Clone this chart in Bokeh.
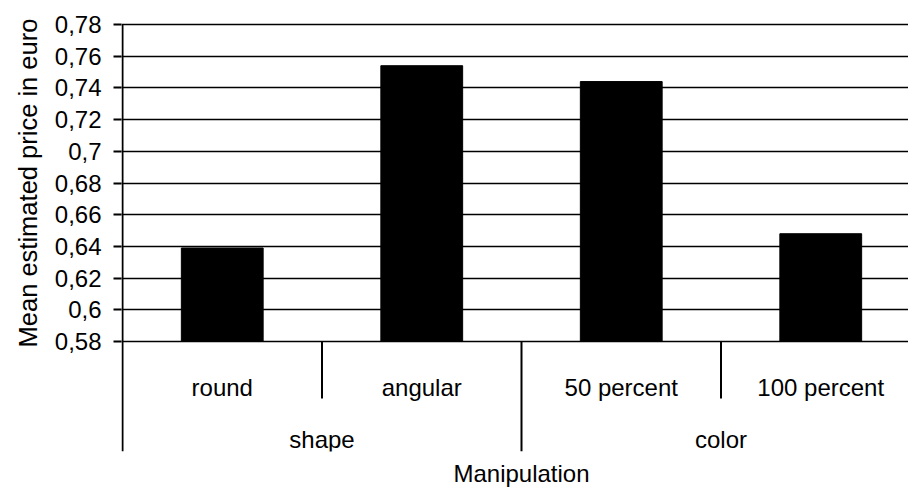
from bokeh.plotting import figure
from bokeh.models import (Range1d, FixedTicker, CustomJSTickFormatter,
                          ColumnDataSource, Title)
from bokeh.core.properties import value
from bokeh.embed import file_html
from bokeh.resources import INLINE

# --- data -----------------------------------------------------------------
subcats = ["round", "angular", "50 percent", "100 percent"]
group_of = ["shape", "shape", "color", "color"]
groups = ["shape", "color"]
mean_price = [0.639, 0.754, 0.744, 0.648]

y_ticks = [0.58, 0.60, 0.62, 0.64, 0.66, 0.68, 0.70, 0.72, 0.74, 0.76, 0.78]
y_tick_labels = ["0,58", "0,6", "0,62", "0,64", "0,66", "0,68", "0,7",
                 "0,72", "0,74", "0,76", "0,78"]

y_title = "Mean estimated price in euro"
x_title = "Manipulation"

# --- layout ---------------------------------------------------------------
FONT = "Liberation Sans"
W, H = 908, 492
LEFT = 121                                 # pixel column of the frame's left edge
FRAME_TOP, FRAME_BOTTOM = 22, 451          # pixel rows of the plot frame
BASE_PX, TOP_PX = 341, 24                  # pixel rows of lowest / highest tick
UNIT = (y_ticks[-1] - y_ticks[0]) / (BASE_PX - TOP_PX)   # data units per pixel
CAT_PX = 199.5                             # pixel width of one category slot

base = y_ticks[0]
y_end = y_ticks[-1] + (TOP_PX - FRAME_TOP) * UNIT
y_start = base - (FRAME_BOTTOM - BASE_PX) * UNIT
x_start = -1.0 / CAT_PX
x_end = x_start + (W - LEFT) / CAT_PX

# approximate text extents (Liberation Sans advance widths, in em)
Y_TITLE_PX, X_TITLE_PX = 25.5, 24
y_title_len = 12.894 * Y_TITLE_PX
x_title_len = 5.669 * X_TITLE_PX

# titles are centred on the tick span / category span, not on the frame
y_title_offset = (TOP_PX + BASE_PX) / 2 - y_title_len / 2 - FRAME_TOP
x_title_offset = (1 + len(subcats) * CAT_PX / 2) - x_title_len / 2

xs = [i + 0.5 for i in range(len(subcats))]
source = ColumnDataSource(dict(x=xs, top=mean_price, name=subcats, group=group_of))

p = figure(width=W, height=H, output_backend="svg", toolbar_location=None,
           x_range=Range1d(x_start, x_end), y_range=Range1d(y_start, y_end),
           x_axis_location=None,
           min_border_left=LEFT, min_border_right=0,
           min_border_top=FRAME_TOP, min_border_bottom=H - FRAME_BOTTOM)
p.outline_line_color = None
p.background_fill_color = "white"
p.border_fill_color = "white"

# horizontal gridlines at the value ticks only
p.xgrid.visible = False
p.ygrid.ticker = FixedTicker(ticks=y_ticks)
p.ygrid.grid_line_color = "black"
p.ygrid.grid_line_width = 1.6

# value axis
ax = p.yaxis[0]
ax.bounds = (y_ticks[0], y_ticks[-1])
ax.ticker = FixedTicker(ticks=y_ticks)
ax.formatter = CustomJSTickFormatter(
    args=dict(tick_vals=y_ticks, tick_text=y_tick_labels),
    code="""
        for (let i = 0; i < tick_vals.length; i++) {
            if (Math.abs(tick - tick_vals[i]) < 1e-9) return tick_text[i];
        }
        return "";
    """)
ax.axis_line_color = None
ax.major_tick_line_color = "black"
ax.major_tick_line_width = 2
ax.major_tick_out = 8
ax.major_tick_in = 0
ax.minor_tick_line_color = None
ax.major_label_standoff = 12
ax.major_label_text_font = FONT
ax.major_label_text_font_size = "24px"
ax.major_label_text_color = "black"

# axis titles
p.add_layout(Title(text=y_title, align="right", offset=y_title_offset,
                   standoff=20, text_font=FONT,
                   text_font_size=f"{Y_TITLE_PX}px",
                   text_font_style="normal", text_color="black"), "left")
p.add_layout(Title(text=x_title, align="left", offset=x_title_offset,
                   standoff=12, text_font=FONT,
                   text_font_size=f"{X_TITLE_PX}px",
                   text_font_style="normal", text_color="black"), "below")

# full-height value axis rule
p.segment(x0=[0], y0=[y_start], x1=[0], y1=[y_ticks[-1]],
          line_color="black", line_width=2)

# bars
p.vbar(x="x", top="top", bottom=base, width=0.41, source=source,
       fill_color="black", line_color="black", line_width=1)

# category separators below the baseline
n = len(subcats)
sub_sep = [i for i in range(1, n) if group_of[i] == group_of[i - 1]]
grp_sep = [i for i in range(1, n) if group_of[i] != group_of[i - 1]]
p.segment(x0=sub_sep, y0=[base] * len(sub_sep), x1=sub_sep,
          y1=[base - 57 * UNIT] * len(sub_sep), line_color="black", line_width=2)
p.segment(x0=grp_sep, y0=[base] * len(grp_sep), x1=grp_sep,
          y1=[y_start] * len(grp_sep), line_color="black", line_width=2)

# category labels
p.text(x="x", y=base, text="name", source=source, y_offset=46,
       text_align="center", text_baseline="alphabetic",
       text_font=value(FONT), text_font_size="24px", text_color="black")

gx = [sum(x for x, g in zip(xs, group_of) if g == grp) /
      group_of.count(grp) for grp in groups]
p.text(x=gx, y=[base] * len(groups), text=groups, y_offset=98,
       text_align="center", text_baseline="alphabetic",
       text_font=value(FONT), text_font_size="24px", text_color="black")

open("out.html", "w").write(file_html(p, INLINE))
